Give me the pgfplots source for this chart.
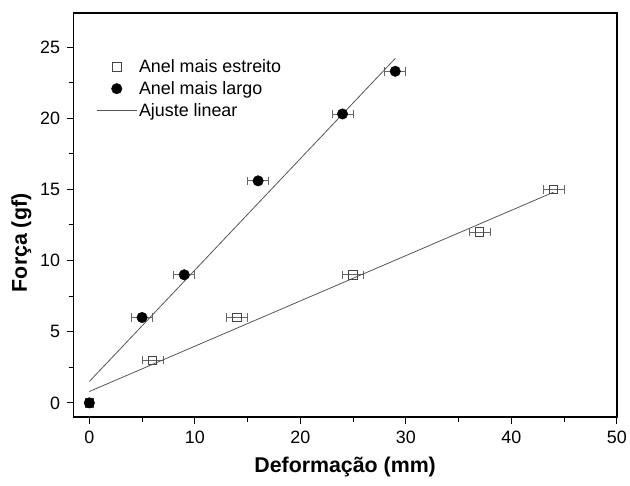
\documentclass[border=0pt]{standalone}
\usepackage{fontspec}
\setmainfont{Liberation Sans}
\usepackage{pgfplots}
\pgfplotsset{compat=1.18}
\definecolor{fitgray}{HTML}{555555}
\definecolor{sqgray}{HTML}{444444}
\definecolor{errgray}{HTML}{666666}
\pgfplotsset{
  markleg/.style={legend image code/.code={\draw[##1] plot coordinates {(20pt,0pt)};}},
  lineleg/.style={legend image code/.code={\draw[##1] (0pt,0pt) -- (40pt,0pt);}},
}
\begin{document}
\begin{tikzpicture}
\begin{axis}[
  scale only axis, width=547pt, height=407pt,
  xmin=-1.5, xmax=50, ymin=-1, ymax=27.4,
  xtick={0,10,...,50}, ytick={0,5,...,25},
  minor x tick num=1, minor y tick num=1,
  xtick pos=left, ytick pos=left, tick align=outside,
  major tick length=7pt, minor tick length=5pt,
  every tick/.style={black,line width=1pt},
  axis line style={line width=1.5pt},
  tick label style={font=\fontsize{18}{20}\selectfont},
  xticklabel style={yshift=-3pt},
  yticklabel style={xshift=-3pt},
  /pgf/number format/assume math mode=true,
  xlabel={\bfseries Deformação (mm)},
  ylabel={\bfseries Força (gf)},
  label style={font=\fontsize{21.5}{25}\selectfont},
  xlabel style={yshift=-7pt},
  ylabel style={yshift=2pt, xshift=-28pt},
  legend style={draw=none, fill=none, font=\fontsize{18}{22}\selectfont,
    at={(0.042,0.89)}, anchor=north west, row sep=3.5pt, inner sep=0pt,
    /tikz/every even column/.append style={column sep=9pt}},
  legend cell align=left,
]
% Anel mais estreito
\addplot[only marks, mark=square, mark size=4.3pt, mark options={draw=sqgray, fill=white, line width=0.8pt},
  markleg,
  error bars/.cd, x dir=both, x explicit,
  error bar style={color=errgray, line width=0.8pt},
  error mark options={rotate=90, mark size=4.3pt, color=errgray, line width=0.8pt}]
  coordinates {(0,0) +- (0,0) (6,3) +- (1,0) (14,6) +- (1,0) (25,9) +- (1,0) (37,12) +- (1,0) (44,15) +- (1,0)};
\addlegendentry{Anel mais estreito}
% Anel mais largo
\addplot[only marks, mark=*, mark size=5.3pt, mark options={draw=black, fill=black},
  markleg,
  error bars/.cd, x dir=both, x explicit,
  error bar style={color=errgray, line width=0.8pt},
  error mark options={rotate=90, mark size=4.3pt, color=errgray, line width=0.8pt}]
  coordinates {(0,0) +- (0,0) (5,6) +- (1,0) (9,9) +- (1,0) (16,15.6) +- (1,0) (24,20.3) +- (1,0) (29,23.3) +- (1,0)};
\addlegendentry{Anel mais largo}
% Ajuste linear
\addplot[fitgray, line width=0.8pt, no marks, lineleg]
  coordinates {(0,1.5) (29,24.2)};
\addlegendentry{Ajuste linear}
\addplot[fitgray, line width=0.8pt, no marks, forget plot] coordinates {(0,0.8) (44,14.8)};
\end{axis}
\path (current axis.south west) ++(-74pt,-69pt) coordinate (bbl);
\path (current axis.north east) ++(9pt,13pt) coordinate (btr);
\useasboundingbox (bbl) rectangle (btr);
\end{tikzpicture}
\end{document}
